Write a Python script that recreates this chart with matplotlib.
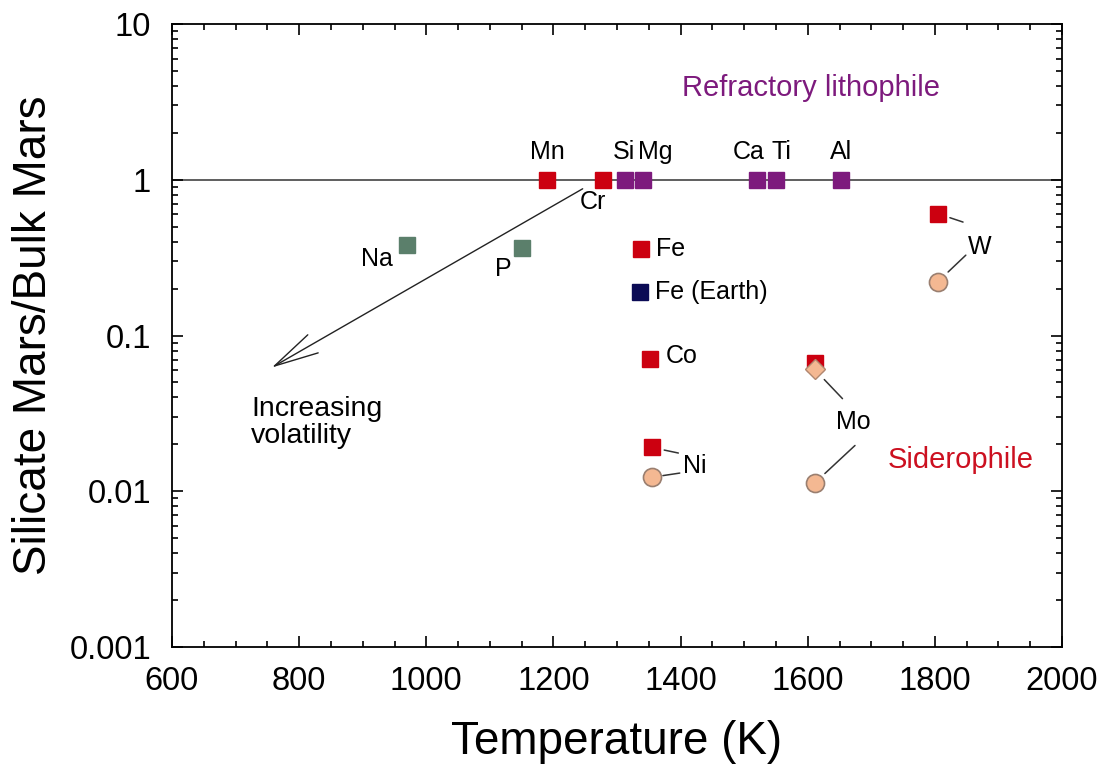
import matplotlib
matplotlib.use("Agg")
import matplotlib.pyplot as plt
from matplotlib.ticker import MultipleLocator, LogLocator, FuncFormatter, NullFormatter

plt.rcParams['font.family'] = ['Liberation Sans', 'DejaVu Sans']

# lithophile elements sitting at 1
lith_names = ['Si', 'Mg', 'Ca', 'Ti', 'Al']
lith_T = [1313, 1341, 1520, 1550, 1652]
lith_val = [1.0, 1.0, 1.0, 1.0, 1.0]

# moderately volatile / siderophile (Mars)
red_names = ['Mn', 'Cr', 'Fe', 'Co', 'Ni', 'Mo', 'W']
red_T = [1190, 1278, 1338, 1352, 1355, 1611, 1805]
red_val = [1.0, 1.0, 0.36, 0.071, 0.0191, 0.067, 0.605]

# volatile lithophiles
vol_names = ['Na', 'P']
vol_T = [970, 1151]
vol_val = [0.383, 0.366]

# Fe for Earth
earth_T = [1336]
earth_val = [0.191]

# model values (circles) and Mo diamond
circ_names = ['Ni', 'Mo', 'W']
circ_T = [1355, 1611, 1805]
circ_val = [0.0123, 0.0113, 0.222]
diam_T = [1611]
diam_val = [0.0605]

RED = '#cc0010'
PURPLE = '#7d1a7d'
GREEN = '#5b7f6b'
NAVY = '#0b0b55'
PEACH = '#f4b892'

fig = plt.figure(figsize=(11.14, 7.76), dpi=100)
ax = fig.add_axes([172/1114, 1-647/776, 890/1114, 623/776])
ax.set_yscale('log')
ax.set_xlim(600, 2000)
ax.set_ylim(0.001, 10)

ax.axhline(1.0, color='#333333', lw=1.1, zorder=1)

ms = 12
ax.plot(lith_T, lith_val, 's', color=PURPLE, ms=ms, mec=PURPLE, zorder=3)
ax.plot(red_T, red_val, 's', color=RED, ms=ms, mec=RED, zorder=3)
ax.plot(vol_T, vol_val, 's', color=GREEN, ms=ms, mec=GREEN, zorder=3)
ax.plot(earth_T, earth_val, 's', color=NAVY, ms=ms, mec=NAVY, zorder=3)
ax.plot(circ_T, circ_val, 'o', color=PEACH, ms=13, mec='#9a7f70', mew=1.2, zorder=3)
ax.plot(diam_T, diam_val, 'D', color=PEACH, ms=10, mec='#b08870', mew=1.0, zorder=4)

fs = 18
# labels above the line
above = {'Mn': (0, 20), 'Si': (-1, 20), 'Mg': (9, 20), 'Ca': (-6, 20), 'Ti': (4, 20), 'Al': (0, 20)}
all_names = red_names + lith_names
all_T = red_T + lith_T
all_val = red_val + lith_val
for n, t, v in zip(all_names, all_T, all_val):
    if n in above:
        dx, dy = above[n]
        ax.annotate(n, (t, v), xytext=(dx, dy), textcoords='offset points',
                    ha='center', va='center', fontsize=fs)

ax.annotate('Cr', (red_T[1], 1.0), xytext=(-7, -16), textcoords='offset points',
            ha='center', va='center', fontsize=fs)
ax.annotate('Na', (vol_T[0], vol_val[0]), xytext=(-22, -10), textcoords='offset points',
            ha='center', va='center', fontsize=fs)
ax.annotate('P', (vol_T[1], vol_val[1]), xytext=(-14, -15), textcoords='offset points',
            ha='center', va='center', fontsize=fs)
ax.annotate('Fe', (red_T[2], red_val[2]), xytext=(11, 0), textcoords='offset points',
            ha='left', va='center', fontsize=fs)
ax.annotate('Fe (Earth)', (earth_T[0], earth_val[0]), xytext=(11, 0), textcoords='offset points',
            ha='left', va='center', fontsize=fs)
ax.annotate('Co', (red_T[3], red_val[3]), xytext=(11, 2), textcoords='offset points',
            ha='left', va='center', fontsize=fs)
ax.annotate('Ni', (red_T[4], red_val[4]), xytext=(31, -13), textcoords='offset points',
            ha='center', va='center', fontsize=fs)
ax.annotate('Mo', (red_T[5], red_val[5]), xytext=(28, -43), textcoords='offset points',
            ha='center', va='center', fontsize=fs)
ax.annotate('W', (red_T[6], red_val[6]), xytext=(30, -24), textcoords='offset points',
            ha='center', va='center', fontsize=fs)

# connector lines: (T, value, end offset in points, gap at the marker in points)
conn = [
    (red_T[4], red_val[4], (19, -4), 9),
    (circ_T[0], circ_val[0], (20, 3), 8),
    (diam_T[0], diam_val[0], (20, -21), 10),
    (circ_T[1], circ_val[1], (29, 27), 10),
    (red_T[6], red_val[6], (18, -6), 9),
    (circ_T[2], circ_val[2], (20, 19), 10),
]
for t, v, off, gap in conn:
    ax.annotate('', (t, v), xytext=off, textcoords='offset points',
                arrowprops=dict(arrowstyle='-', color='#333333', lw=1.1,
                                shrinkA=0, shrinkB=gap))

# volatility arrow
ax.annotate('', xy=(757, 0.0623), xytext=(1246, 0.875),
            arrowprops=dict(arrowstyle='->,head_length=3.2,head_width=0.75',
                            color='#222222', lw=1.0, shrinkA=0, shrinkB=0))
ax.text(0.0888, 0.361, 'Increasing\nvolatility', transform=ax.transAxes,
        ha='left', va='center', fontsize=20.5, linespacing=1.05)

ax.text(0.718, 0.897, 'Refractory lithophile', transform=ax.transAxes,
        ha='center', va='center', fontsize=21, color=PURPLE)
ax.text(0.886, 0.3, 'Siderophile', transform=ax.transAxes,
        ha='center', va='center', fontsize=21, color='#cc1020')

ax.xaxis.set_major_locator(MultipleLocator(200))
ax.xaxis.set_minor_locator(MultipleLocator(50))
ax.yaxis.set_major_locator(LogLocator(base=10))
ax.yaxis.set_minor_locator(LogLocator(base=10, subs=range(2, 10)))
ax.yaxis.set_major_formatter(FuncFormatter(lambda v, p: '%g' % v))
ax.yaxis.set_minor_formatter(NullFormatter())
ax.tick_params(which='both', direction='in', top=True, right=True, width=1.2)
ax.tick_params(which='major', length=8, labelsize=23.5)
ax.tick_params(axis='x', which='major', pad=14)
ax.tick_params(axis='y', which='major', pad=15)
ax.tick_params(which='minor', length=4)
for s in ax.spines.values():
    s.set_linewidth(1.3)

ax.set_xlabel('Temperature (K)', fontsize=33, labelpad=16)
ax.set_ylabel('Silicate Mars/Bulk Mars', fontsize=33, labelpad=10)

fig.savefig('out.png', dpi=100)
